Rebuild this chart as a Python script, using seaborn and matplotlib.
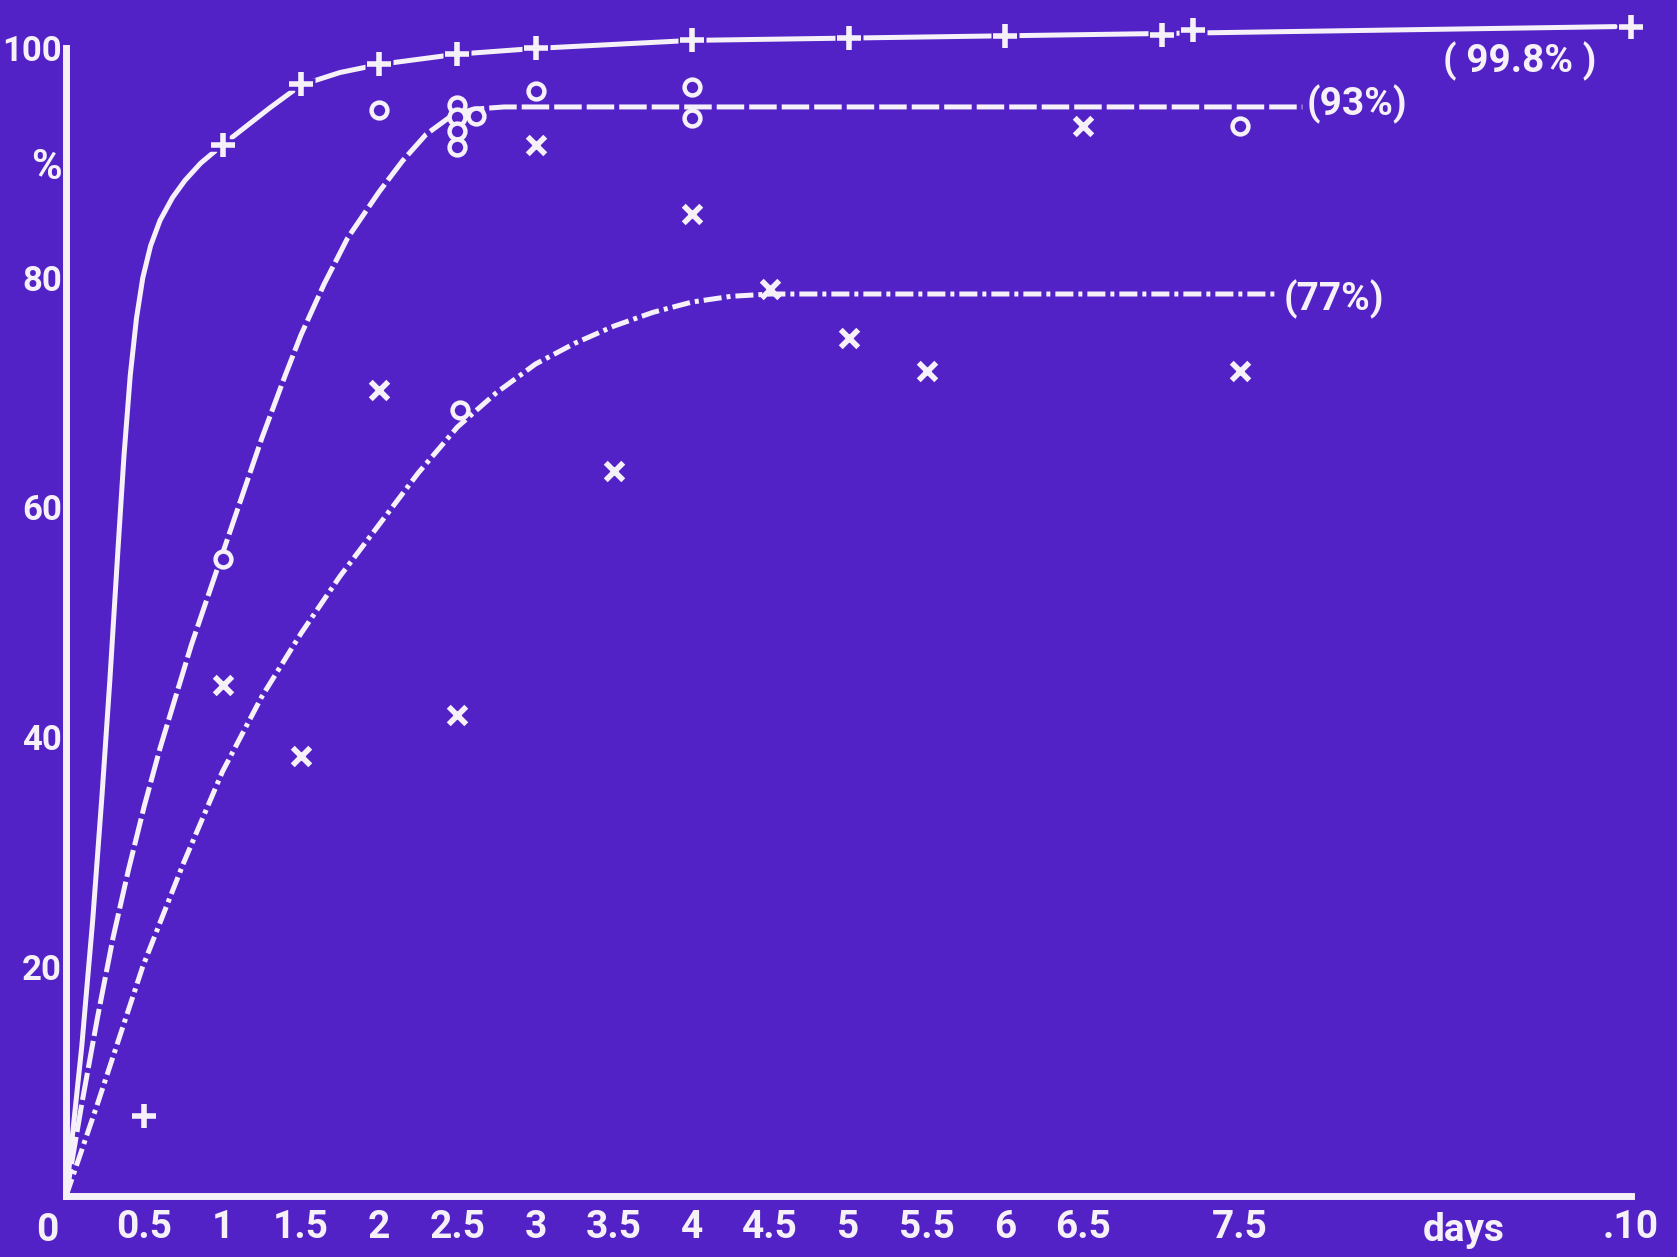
import matplotlib
matplotlib.use("Agg")
import matplotlib.pyplot as plt
import seaborn as sns

# values
plus_days = [0.5, 1.0, 1.5, 2.0, 2.5, 3.0, 4.0, 5.0, 6.0, 7.0, 7.2, 10.0]
plus_pct = [7.0, 91.6, 96.9, 98.6, 99.5, 100.0, 100.7, 100.9, 101.1, 101.2, 101.6, 101.9]

circle_days = [1.0, 2.0, 2.5, 2.5, 2.5, 2.5, 2.62, 3.0, 4.0, 4.0, 7.5, 2.52]
circle_pct = [55.5, 94.6, 95.1, 94.0, 92.8, 91.4, 94.1, 96.3, 96.6, 93.9, 93.2, 68.5]

cross_days = [1.0, 1.5, 2.0, 2.5, 3.0, 3.5, 4.0, 4.5, 5.0, 5.5, 6.5, 7.5]
cross_pct = [44.5, 38.3, 70.2, 41.9, 91.6, 63.2, 85.6, 79.0, 74.8, 71.9, 93.2, 71.9]

# hand-drawn curves, traced point by point
solid_days = [0, 0.1, 0.17, 0.23, 0.28, 0.33, 0.37, 0.41, 0.45, 0.49, 0.54, 0.6,
              0.68, 0.76, 0.86, 1.0, 1.15, 1.3, 1.5, 1.75, 2.0, 2.5, 3.0, 4.0,
              5.0, 6.0, 7.0, 9.9]
solid_pct = [0, 13, 24, 35, 45, 56, 64.5, 71.5, 76.5, 80, 82.8, 85,
             87.0, 88.5, 90.0, 91.6, 93.2, 94.8, 96.8, 97.9, 98.6, 99.5, 100, 100.7,
             100.9, 101.1, 101.3, 101.9]

dashed_days = [0, 0.1, 0.2, 0.3, 0.4, 0.5, 0.6, 0.7, 0.8, 0.9, 1.0, 1.1, 1.25,
               1.4, 1.5, 1.65, 1.8, 2.0, 2.15, 2.3, 2.45, 2.6, 2.8, 3.0, 5.0, 7.9]
dashed_pct = [0, 8, 15.5, 22.5, 28.5, 34, 39, 43.5, 48, 52, 56, 60, 66,
              71.5, 75, 79.5, 83.5, 87.5, 90.2, 92.5, 94.0, 94.7, 94.9, 94.9, 94.9, 94.9]

dashdot_days = [0, 0.2, 0.49, 0.75, 1.0, 1.25, 1.5, 1.75, 2.0, 2.25, 2.5, 2.75,
                3.0, 3.25, 3.5, 3.75, 4.0, 4.25, 4.5, 6.0, 7.75]
dashdot_pct = [0, 8, 20, 29, 37, 43.5, 49, 54, 58.5, 63, 67, 70,
               72.5, 74.3, 75.8, 77, 77.9, 78.4, 78.6, 78.6, 78.6]

x_ticks = [0.5, 1, 1.5, 2, 2.5, 3, 3.5, 4, 4.5, 5, 5.5, 6, 6.5, 7.5, 10]
x_labels = ["0.5", "1", "1.5", "2", "2.5", "3", "3.5", "4", "4.5", "5", "5.5",
            "6", "6.5", "7.5", ".10"]
y_ticks = [0, 10, 20, 30, 40, 50, 60, 70, 80, 90, 100]
y_labels = ["", "", "20", "", "40", "", "60", "", "80", "%", "100"]

bg = "#5222c6"
fg = "#f6f0f8"

sns.set_theme(style="white")
plt.rcParams["font.family"] = ["Roboto", "DejaVu Sans"]
plt.rcParams["font.weight"] = "bold"

fig = plt.figure(figsize=(16.77, 12.57), dpi=100, facecolor=bg)
ax = fig.add_axes([0.0394, 0.0485, 0.9565, 0.9495], facecolor=bg)

lw = 3.6
sns.lineplot(x=solid_days, y=solid_pct, ax=ax, color=fg, lw=lw, sort=False,
             estimator=None, zorder=3)
sns.lineplot(x=dashed_days, y=dashed_pct, ax=ax, color=fg, lw=lw, sort=False,
             estimator=None, zorder=3).lines[-1].set_dashes((5.5, 1.0))
sns.lineplot(x=dashdot_days, y=dashdot_pct, ax=ax, color=fg, lw=lw, sort=False,
             estimator=None, zorder=3).lines[-1].set_dashes((3.6, 1.0, 0.8, 1.0))

# background halo so the line breaks round each plus, as on the slide
sns.scatterplot(x=plus_days, y=plus_pct, ax=ax, marker="+", s=420, color=bg,
                linewidth=9, zorder=4, clip_on=False)
sns.scatterplot(x=plus_days, y=plus_pct, ax=ax, marker="+", s=300, color=fg,
                linewidth=4, zorder=5, clip_on=False)
sns.scatterplot(x=cross_days, y=cross_pct, ax=ax, marker="x", s=160, color=fg,
                linewidth=4, zorder=5, clip_on=False)
sns.scatterplot(x=circle_days, y=circle_pct, ax=ax, marker="o", s=130,
                facecolor=bg, edgecolor=fg, linewidth=3.2, zorder=5, clip_on=False)

ax.set_xlim(0, 10.25)
ax.set_ylim(0, 104)
for side in ["top", "right"]:
    ax.spines[side].set_visible(False)
for side in ["left", "bottom"]:
    ax.spines[side].set_color(fg)
    ax.spines[side].set_linewidth(5)
ax.spines["left"].set_bounds(0, 100)
ax.spines["bottom"].set_bounds(0, 10)

ax.set_xticks(x_ticks)
ax.set_xticklabels(x_labels)
ax.set_yticks(y_ticks)
ax.set_yticklabels(y_labels)
ax.tick_params(axis="x", direction="in", length=11, width=3, color=fg,
               labelcolor=fg, labelsize=28, pad=9)
ax.tick_params(axis="y", direction="in", length=18, width=3, color=fg,
               labelcolor=fg, labelsize=25, pad=3)
ax.get_yticklabels()[9].set_fontsize(30)
ax.set_xlabel("")
ax.set_ylabel("")

ax.text(-0.12, -3.0, "0", color=fg, fontsize=28, ha="center", va="center",
        clip_on=False)
ax.text(8.93, -3.0, "days", color=fg, fontsize=28, ha="center", va="center",
        clip_on=False)
ax.text(8.8, 98.9, "( 99.8% )", color=fg, fontsize=28, ha="left", va="center")
ax.text(7.93, 95.1, "(93%)", color=fg, fontsize=28, ha="left", va="center")
ax.text(7.78, 78.1, "(77%)", color=fg, fontsize=28, ha="left", va="center")

fig.savefig("out.png", dpi=100, facecolor=bg)
